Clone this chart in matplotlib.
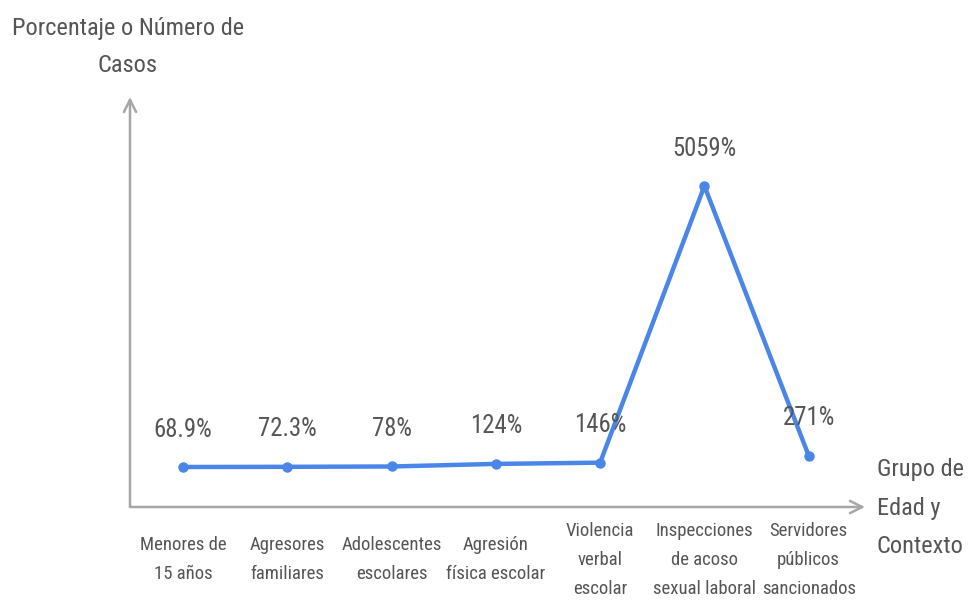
import matplotlib.pyplot as plt

# Datos
categorias = ["Menores de\n15 años", "Agresores\nfamiliares", "Adolescentes\nescolares",
              "Agresión\nfísica escolar", "Violencia\nverbal\nescolar",
              "Inspecciones\nde acoso\nsexual laboral", "Servidores\npúblicos\nsancionados"]
valores = [68.9, 72.3, 78, 124, 146, 5059, 271]
etiquetas = ["68.9%", "72.3%", "78%", "124%", "146%", "5059%", "271%"]

plt.rcParams['font.family'] = ['Roboto Condensed', 'Liberation Sans Narrow', 'Roboto', 'DejaVu Sans']

color_linea = '#4a86e8'
color_texto = '#555555'
color_eje = '#a6a6a6'

fig = plt.figure(figsize=(9.69, 6.01), dpi=100)
ax = fig.add_axes([130 / 969, 1 - 507 / 601, 735 / 969, 410 / 601])

x = list(range(len(valores)))
ax.plot(x, valores, color=color_linea, linewidth=3.2, marker='o', markersize=6.5,
        solid_capstyle='round', zorder=3)

for xi, v, t in zip(x, valores, etiquetas):
    ax.annotate(t, (xi, v), xytext=(0, 27), textcoords='offset points',
                ha='center', va='center', fontsize=17.8, color=color_texto)

for xi, c in zip(x, categorias):
    ax.annotate(c, (xi, 0), xycoords=('data', 'axes fraction'), xytext=(0, -38),
                textcoords='offset points', ha='center', va='center',
                fontsize=13.5, color=color_texto, linespacing=1.78, annotation_clip=False)

ax.set_xlim(-0.508, 6.54)
ax.set_ylim(-641.4, 6639.5)
for s in ax.spines.values():
    s.set_visible(False)
ax.set_xticks([])
ax.set_yticks([])

# Ejes con flechas
ax.annotate('', xy=(0, 1), xytext=(0, 0), xycoords='axes fraction',
            arrowprops=dict(arrowstyle='->', color=color_eje, lw=1.8,
                            mutation_scale=22, shrinkA=0, shrinkB=0))
ax.annotate('', xy=(1, 0), xytext=(0, 0), xycoords='axes fraction',
            arrowprops=dict(arrowstyle='->', color=color_eje, lw=1.8,
                            mutation_scale=22, shrinkA=0, shrinkB=0))

fig.text(128 / 969, 1 - 47 / 601, "Porcentaje o Número de\nCasos", ha='center', va='center',
         fontsize=17.6, color=color_texto, linespacing=1.8)
fig.text(877 / 969, 1 - 508 / 601, "Grupo de\nEdad y\nContexto", ha='left', va='center',
         fontsize=17.6, color=color_texto, linespacing=1.85)

fig.savefig('out.png', dpi=100)
